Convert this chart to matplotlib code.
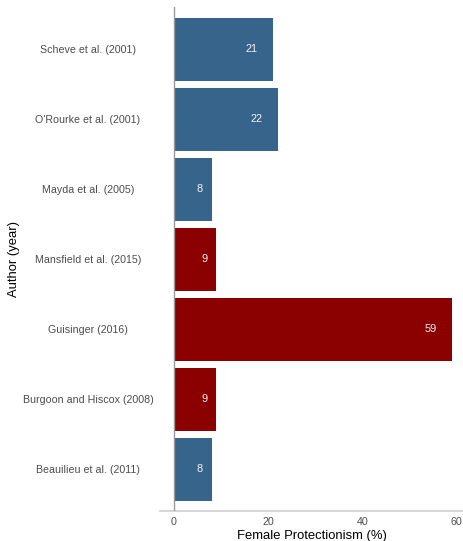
import matplotlib
matplotlib.use("Agg")
import matplotlib.pyplot as plt

authors = ["Scheve et al. (2001)", "O'Rourke et al. (2001)", "Mayda et al. (2005)",
           "Mansfield et al. (2015)", "Guisinger (2016)", "Burgoon and Hiscox (2008)",
           "Beauilieu et al. (2011)"]
values = [21, 22, 8, 9, 59, 9, 8]
groups = ["blue", "blue", "blue", "red", "red", "red", "blue"]
palette = {"blue": "#36648B", "red": "#8B0000"}
xticks = [0, 20, 40, 60]

plt.rcParams['font.family'] = ['Liberation Sans', 'DejaVu Sans']

fig = plt.figure(figsize=(4.63, 5.41), dpi=100)
ax = fig.add_axes([160/463, 30/541, 303/463, 504/541])

pos = list(range(len(authors)))
ax.barh(pos, values, height=0.9, color=[palette[g] for g in groups], zorder=2)

for p, v in zip(pos, values):
    s = str(v)
    off = 3 + 6 * len(s)
    ax.annotate(s, xy=(v, p), xytext=(-off, 0), textcoords='offset pixels',
                ha='right', va='center', color='#f2f2f2', fontsize=7.9)

ax.set_xlim(-2.97, 61.3)
ax.set_ylim(6.593, -0.607)
ax.set_yticks(pos)
ax.set_yticklabels(authors, ha='center', fontsize=7.7, color='#4d4d4d')
ax.tick_params(axis='y', length=0, pad=72*0.72)
ax.set_xticks(xticks)
ax.set_xticklabels([str(t) for t in xticks], fontsize=7.7, color='#4d4d4d')
ax.tick_params(axis='x', length=0, pad=4)

for s in ['top', 'right', 'left']:
    ax.spines[s].set_visible(False)
ax.spines['bottom'].set_color('#d0d0d0')
ax.spines['bottom'].set_linewidth(1.2)
ax.axvline(0, color='#999999', lw=1, zorder=3)

ax.set_xlabel("Female Protectionism (%)", fontsize=9.4, color='black')
ax.xaxis.set_label_coords(0.5, -0.037)
ax.set_ylabel("Author (year)", fontsize=9.4, color='black')
ax.yaxis.set_label_coords(-0.462, 0.5)

fig.savefig("out.png", dpi=100)
